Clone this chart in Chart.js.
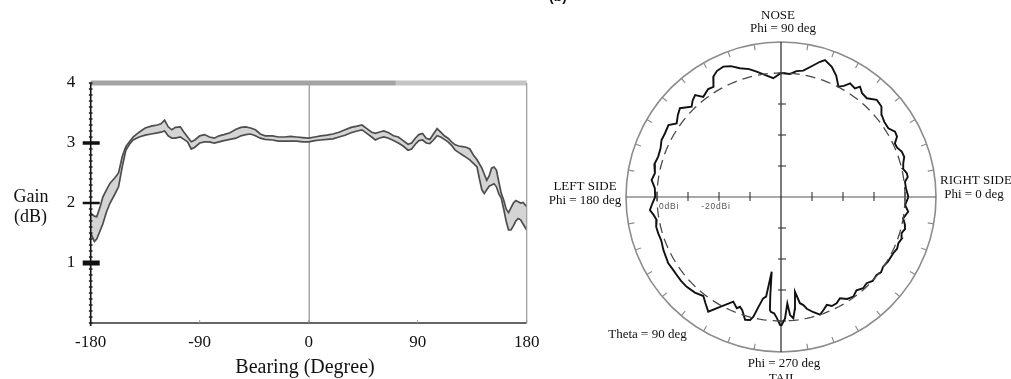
<!DOCTYPE html>
<html><head><meta charset="utf-8">
<script src="https://cdn.jsdelivr.net/npm/chart.js@4/dist/chart.umd.min.js"></script>
<style>
html,body{margin:0;padding:0;background:#fff;overflow:hidden}
#wrap{position:relative;width:1011px;height:379px;background:#fff}
#c1{position:absolute;left:0;top:0}
#c2{position:absolute;left:540px;top:0}
</style></head><body>
<div id="wrap"><canvas id="c1" width="540" height="379"></canvas><canvas id="c2" width="471" height="379"></canvas></div>
<script>
// ---------- Left panel data: gain vs bearing ----------
const bearing = [-180,-177,-175,-172,-170,-167,-164,-160,-157,-154,
  -151,-148,-145,-140,-135,-130,-125,-122,-119,-116,
  -113,-110,-106,-103,-100,-97,-94,-90,-86,-82,
  -78,-74,-70,-65,-60,-56,-52,-48,-44,-40,
  -36,-30,-25,-20,-15,-10,-5,0,5,10,
  15,20,25,30,35,40,44,48,52,55,
  58,62,66,70,74,78,82,85,88,91,
  94,97,100,103,106,109,112,115,118,121,
  124,127,130,133,136,139,141,143,145,147,
  149,151,153,155,157,159,161,163,165,167,
  169,171,173,175,177,180];
const gainUpper = [1.83,1.78,1.77,1.95,2.10,2.22,2.33,2.42,2.50,2.77,
  2.94,3.02,3.10,3.18,3.25,3.28,3.30,3.32,3.38,3.27,
  3.22,3.26,3.27,3.18,3.10,3.02,3.05,3.12,3.14,3.10,
  3.08,3.12,3.14,3.17,3.23,3.26,3.27,3.25,3.22,3.15,
  3.12,3.12,3.10,3.10,3.11,3.10,3.09,3.08,3.10,3.12,
  3.13,3.15,3.18,3.22,3.26,3.28,3.30,3.24,3.18,3.16,
  3.18,3.20,3.17,3.12,3.10,3.04,2.98,3.00,3.08,3.14,
  3.16,3.08,3.06,3.15,3.24,3.18,3.12,3.08,3.02,2.97,
  2.95,2.94,2.93,2.90,2.80,2.72,2.65,2.58,2.48,2.38,
  2.45,2.58,2.60,2.55,2.35,2.16,2.05,1.90,1.84,1.92,
  2.00,2.04,2.02,2.00,2.01,1.94];
const gainLower = [1.50,1.36,1.40,1.55,1.65,1.85,2.00,2.15,2.27,2.60,
  2.88,2.98,3.05,3.10,3.13,3.15,3.17,3.18,3.20,3.12,
  3.08,3.08,3.10,3.06,3.02,2.90,2.93,3.00,3.02,3.02,
  3.00,3.02,3.04,3.06,3.08,3.12,3.14,3.15,3.12,3.08,
  3.06,3.05,3.03,3.03,3.03,3.03,3.02,3.02,3.04,3.05,
  3.06,3.07,3.10,3.13,3.17,3.20,3.22,3.16,3.10,3.05,
  3.08,3.10,3.08,3.04,3.00,2.95,2.88,2.90,2.98,3.04,
  3.05,3.00,2.99,3.05,3.12,3.10,3.06,3.02,2.96,2.88,
  2.84,2.80,2.76,2.72,2.66,2.60,2.40,2.22,2.16,2.22,
  2.28,2.30,2.32,2.27,2.15,2.08,1.90,1.70,1.55,1.55,
  1.62,1.70,1.74,1.72,1.65,1.55];
const bearingTicks = [-180,-90,0,90,180];
const gainTicks = [1,2,3,4];
const gainMinorStep = 0.1;

// ---------- Right panel data: polar pattern ----------
const phiDeg = [0,4,7,9,10.7,13,15.4,18,20.6,23,
  25.2,27.5,29.8,32.6,36,39.2,42,45.4,49,52,
  54.4,55.8,58.7,60.5,62.5,65.5,68.7,72.2,73.9,77,
  80,83,85.8,90,93.7,97,101,104,107.7,111,
  113.9,117,119.4,121.5,124,127.8,130.1,132.5,134.7,138.7,
  141.5,144.8,147.4,151.2,154.5,158,161.8,165.5,169.3,172.5,
  176,180,183,185.7,188,190.5,193.5,196.5,200,204.2,
  207,210.5,213.5,216.8,220,223.6,228,231.9,234.5,237.6,
  241,245.5,248.3,249.5,251,253.7,255.9,257,258.5,260,
  261.5,262.9,263.8,264.4,264.9,266.6,268,269.6,270.3,271.9,
  273.4,274.4,275.8,277,278.4,280.1,281.7,283,285.5,288.3,
  290.5,293,295,297.6,300.2,303,306,309,312,314.8,
  317.5,320.8,323,325.7,329,333.4,336,338.5,341,343.3,
  345.5,347.3,350.1,353.4,356.3,360];
const gainDbi = [1.1,0.4,0.3,1.4,1.3,0.4,0.9,1.8,1.6,0.7,
  0.6,2.2,2.4,1.1,1.2,1.9,3.6,4.0,2.2,2.5,
  3.8,2.4,2.9,1.2,0.1,3.0,5.1,6.4,5.4,3.2,
  1.4,0.9,-0.2,0.0,-1.6,-0.5,1.2,2.5,3.6,5.2,
  6.0,5.6,4.5,1.7,2.0,0.9,3.0,2.2,1.0,3.4,
  2.5,1.2,3.1,2.7,2.7,1.9,1.7,2.2,1.4,2.1,
  0.8,0.6,1.6,2.5,1.5,0.8,1.4,1.3,1.1,1.6,
  1.8,2.2,2.0,2.0,2.1,2.0,1.5,0.6,2.0,3.8,
  0.5,-2.9,-1.4,-2.2,-1.5,1.3,0.9,-0.4,-4.0,-6.8,
  -7.5,-15.7,-8.0,-3.4,-2.8,-2.4,-1.0,1.3,1.3,-0.8,
  -5.6,-1.8,-0.7,-3.5,-9.1,-5.2,-4.4,-3.0,-1.5,0.0,
  -1.0,-2.2,-1.2,-1.3,-2.2,-0.8,-0.3,-1.3,-0.4,-0.8,
  0.1,-0.2,0.4,-0.1,0.3,0.5,1.0,0.7,1.2,0.6,
  1.3,1.0,0.0,1.3,0.1,1.1];
const centerDbi = -40;      // level at the centre of the polar plot
const refDbi = 0;          // dashed reference circle
const outerDbi = 10;       // outer rim
const ringTickDbi = [-30,-20,-10,0];
const rimTickStepDeg = 10;
const polarAxisLabels = ['0dBi','-20dBi'];

const SERIF = "'Liberation Serif','Times New Roman',serif";

// ---------- Left chart ----------
const leftDecor = {
  id:'leftDecor',
  beforeDatasetsDraw(chart){
    const {ctx, chartArea:a, scales:{x,y}} = chart;
    ctx.save();
    const x0 = x.getPixelForValue(0);
    ctx.strokeStyle='#7a7a7a'; ctx.lineWidth=1;
    ctx.beginPath(); ctx.moveTo(x0+0.5,a.top); ctx.lineTo(x0+0.5,a.bottom); ctx.stroke();
    ctx.restore();
  },
  afterDatasetsDraw(chart){
    const {ctx, chartArea:a, scales:{x,y}} = chart;
    ctx.save();
    const xm = x.getPixelForValue(72);
    ctx.lineWidth=5;
    ctx.strokeStyle='#a3a3a3';
    ctx.beginPath(); ctx.moveTo(a.left,a.top); ctx.lineTo(xm,a.top); ctx.stroke();
    ctx.strokeStyle='#c4c4c4';
    ctx.beginPath(); ctx.moveTo(xm,a.top); ctx.lineTo(a.right,a.top); ctx.stroke();
    ctx.strokeStyle='#9a9a9a'; ctx.lineWidth=1.2;
    ctx.beginPath(); ctx.moveTo(a.right,a.top); ctx.lineTo(a.right,a.bottom); ctx.stroke();
    ctx.strokeStyle='#333'; ctx.lineWidth=1.3;
    ctx.beginPath(); ctx.moveTo(a.left,a.bottom); ctx.lineTo(a.right,a.bottom); ctx.stroke();
    ctx.strokeStyle='#999'; ctx.lineWidth=1;
    bearingTicks.forEach(v=>{ const px=x.getPixelForValue(v); ctx.beginPath(); ctx.moveTo(px,a.bottom-3); ctx.lineTo(px,a.bottom); ctx.stroke(); });
    ctx.strokeStyle='#111'; ctx.lineWidth=1.6;
    ctx.beginPath(); ctx.moveTo(a.left,a.top); ctx.lineTo(a.left,a.bottom+3); ctx.stroke();
    ctx.fillStyle='#222';
    for(let v=0; v<=4.0001; v+=gainMinorStep){
      const py=y.getPixelForValue(v);
      ctx.fillRect(a.left-1.8,py-0.8,3.6,1.6);
    }
    const barH = {1:5,2:2.5,3:3.5};
    gainTicks.forEach(v=>{
      if(!barH[v]) return;
      const py=y.getPixelForValue(v);
      ctx.fillStyle='#111';
      ctx.fillRect(a.left-8,py-barH[v]/2,17,barH[v]);
    });
    ctx.fillStyle='#111';
    ctx.textAlign='center'; ctx.textBaseline='alphabetic';
    ctx.font='18px '+SERIF;
    ctx.fillText('Gain',31,201.5);
    ctx.fillText('(dB)',30.5,222);
    ctx.font='20px '+SERIF;
    ctx.fillText('Bearing (Degree)',305,373);
    ctx.restore();
  }
};

new Chart(document.getElementById('c1'),{
  type:'line',
  data:{datasets:[
    {label:'upper', data:bearing.map((b,i)=>({x:b,y:gainUpper[i]})), borderColor:'#4d4d4d', borderWidth:1.7, pointRadius:0, fill:false, tension:0},
    {label:'lower', data:bearing.map((b,i)=>({x:b,y:gainLower[i]})), borderColor:'#4d4d4d', borderWidth:1.7, pointRadius:0, fill:'-1', backgroundColor:'#d4d4d4', tension:0}
  ]},
  options:{
    responsive:false, animation:false, devicePixelRatio:1,
    layout:{padding:{top:83,right:13.3,left:0,bottom:0}},
    plugins:{legend:{display:false},tooltip:{enabled:false}},
    scales:{
      x:{type:'linear',min:-180,max:180,
        afterBuildTicks:s=>{s.ticks=bearingTicks.map(v=>({value:v}));},
        afterFit:s=>{s.height=56; s.paddingRight=0; s.paddingLeft=0;},
        grid:{display:false,drawTicks:false}, border:{display:false},
        ticks:{font:{family:SERIF,size:17},color:'#111',padding:9,maxRotation:0,autoSkip:false}},
      y:{type:'linear',min:0,max:4,
        afterBuildTicks:s=>{s.ticks=gainTicks.map(v=>({value:v}));},
        afterFit:s=>{s.width=90.7; s.paddingTop=0; s.paddingBottom=0;},
        grid:{display:false,drawTicks:false}, border:{display:false},
        ticks:{font:{family:SERIF,size:17},color:'#111',padding:15.5}}
    }
  },
  plugins:[leftDecor]
});

// ---------- Right (polar) chart ----------
const PX_PER_DB = 3.1;
const CX = 241, CY = 197; // centre in canvas pixels
const W2 = 471, H2 = 379;
const toXY = (deg, db) => {
  const r = db - centerDbi, t = deg*Math.PI/180;
  return {x: r*Math.cos(t), y: r*Math.sin(t)};
};
const circleAngles = Array.from({length:181},(_,i)=>i*2);

const polarDecor = {
  id:'polarDecor',
  beforeDatasetsDraw(chart){
    const {ctx, scales:{x,y}} = chart;
    const cx=x.getPixelForValue(0), cy=y.getPixelForValue(0);
    const k=x.getPixelForValue(1)-cx;
    const R=(outerDbi-centerDbi)*k;
    ctx.save();
    ctx.strokeStyle='#8c8c8c'; ctx.lineWidth=1.6;
    ctx.beginPath(); ctx.arc(cx,cy,R,0,Math.PI*2); ctx.stroke();
    ctx.strokeStyle='#8c8c8c'; ctx.lineWidth=1.2;
    for(let d=0; d<360; d+=rimTickStepDeg){
      if(d%90===0) continue;
      const t=d*Math.PI/180;
      ctx.beginPath();
      ctx.moveTo(cx+R*Math.cos(t), cy-R*Math.sin(t));
      ctx.lineTo(cx+(R-6)*Math.cos(t), cy-(R-6)*Math.sin(t));
      ctx.stroke();
    }
    ctx.strokeStyle='#555'; ctx.lineWidth=1.1;
    ctx.beginPath(); ctx.moveTo(cx-R,cy); ctx.lineTo(cx+R,cy); ctx.stroke();
    ctx.strokeStyle='#111'; ctx.lineWidth=1.1;
    ctx.beginPath(); ctx.moveTo(cx,cy-R); ctx.lineTo(cx,cy+R); ctx.stroke();
    ringTickDbi.forEach(db=>{
      const r=(db-centerDbi)*k;
      ctx.strokeStyle='#333'; ctx.lineWidth=1.1;
      [1,-1].forEach(s=>{
        ctx.beginPath(); ctx.moveTo(cx+s*r,cy-5); ctx.lineTo(cx+s*r,cy+4); ctx.stroke();
        ctx.beginPath(); ctx.moveTo(cx-3,cy+s*r); ctx.lineTo(cx+5,cy+s*r); ctx.stroke();
      });
    });
    ctx.fillStyle='#555'; ctx.font='8.5px "Liberation Sans",Arial,sans-serif';
    ctx.textBaseline='alphabetic';
    try{ctx.letterSpacing='0.8px';}catch(e){}
    ctx.textAlign='left';
    ctx.fillText(polarAxisLabels[0], cx-(0-centerDbi)*k+2, cy+11.5);
    ctx.textAlign='center';
    ctx.fillText(polarAxisLabels[1], cx-(-20-centerDbi)*k-3, cy+11.5);
    try{ctx.letterSpacing='0px';}catch(e){}
    ctx.restore();
  },
  afterDraw(chart){
    const {ctx, scales:{x,y}} = chart;
    const cx=x.getPixelForValue(0), cy=y.getPixelForValue(0);
    ctx.save();
    ctx.fillStyle='#111'; ctx.textAlign='center'; ctx.textBaseline='alphabetic';
    ctx.font='13px '+SERIF;
    ctx.fillText('NOSE', cx-3, 18.5);
    ctx.fillText('Phi = 90 deg', cx+2, 32);
    ctx.fillText('RIGHT SIDE', cx+195, 183.5);
    ctx.fillText('Phi = 0 deg', cx+193, 198);
    ctx.fillText('LEFT SIDE', cx-196, 190);
    ctx.fillText('Phi = 180 deg', cx-196, 204);
    ctx.fillText('Theta = 90 deg', cx-133.5, 338);
    ctx.fillText('Phi = 270 deg', cx+3, 366.5);
    ctx.fillText('TAIL', cx+2, 382);
    ctx.font='bold 14px "Liberation Sans",Arial,sans-serif';
    ctx.fillText('(b)', 18, 1);
    ctx.restore();
  }
};

new Chart(document.getElementById('c2'),{
  type:'scatter',
  data:{datasets:[
    {label:'0 dBi', data:circleAngles.map(d=>toXY(d,refDbi)), showLine:true, pointRadius:0, borderColor:'#4a4a4a', borderWidth:1.3, borderDash:[10,6], tension:0},
    {label:'pattern', data:phiDeg.map((d,i)=>toXY(d,gainDbi[i])), showLine:true, pointRadius:0, borderColor:'#111', borderWidth:1.9, tension:0}
  ]},
  options:{
    responsive:false, animation:false, devicePixelRatio:1,
    layout:{padding:0},
    plugins:{legend:{display:false},tooltip:{enabled:false}},
    scales:{
      x:{type:'linear',display:false,min:-CX/PX_PER_DB,max:(W2-CX)/PX_PER_DB},
      y:{type:'linear',display:false,min:-(H2-CY)/PX_PER_DB,max:CY/PX_PER_DB}
    }
  },
  plugins:[polarDecor]
});
</script>
</body></html>
